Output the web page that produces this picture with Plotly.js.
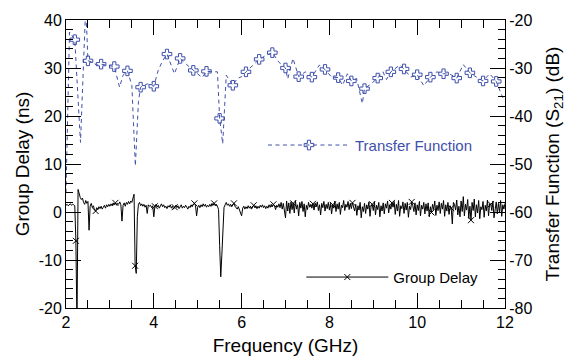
<!DOCTYPE html>
<html>
<head>
<meta charset="utf-8">
<script src="https://cdn.plot.ly/plotly-3.0.1.min.js"></script>
<style>html,body{margin:0;padding:0;background:#fff;}#chart{width:580px;height:360px;}</style>
</head>
<body>
<div id="chart"></div>
<script>
// Transfer function S21 (dB), right axis
const tfFreq = [2.0, 2.08, 2.2, 2.33, 2.45, 2.5, 2.6, 2.7, 2.8, 2.95,
  3.1, 3.22, 3.3, 3.4, 3.5, 3.58, 3.65, 3.7, 3.85, 4.0,
  4.1, 4.2, 4.3, 4.47, 4.6, 4.75, 4.9, 5.1, 5.2, 5.45,
  5.5, 5.57, 5.65, 5.8, 5.9, 6.0, 6.1, 6.3, 6.4, 6.55,
  6.7, 6.85, 7.0, 7.05, 7.17, 7.3, 7.45, 7.6, 7.77, 7.9,
  8.05, 8.2, 8.3, 8.41, 8.5, 8.62, 8.75, 8.8, 8.95, 9.1,
  9.22, 9.3, 9.4, 9.6, 9.7, 9.85, 10.0, 10.15, 10.3, 10.45,
  10.6, 10.75, 10.9, 11.05, 11.2, 11.35, 11.5, 11.65, 11.8, 11.95, 12.0];
const tfDb = [-56, -22.5, -24.1, -45.5, -17, -28.5, -28.8, -29.4, -29.2, -29.4,
  -29.7, -34.0, -31.5, -30.6, -33.6, -50.4, -37, -34.0, -33.3, -33.8,
  -30.5, -28.5, -27.1, -31.2, -28.0, -29.3, -30.5, -32.0, -30.7, -30.8,
  -40.5, -45.8, -31.5, -33.6, -32.2, -31.8, -30.8, -29.1, -28.2, -27.4,
  -26.8, -28.8, -30.0, -32.3, -28.0, -31.8, -30.8, -31.9, -29.4, -30.3,
  -31.9, -32.0, -33.6, -31.2, -32.7, -32.2, -37.4, -34.3, -33.3, -32.1,
  -30.8, -32.4, -30.8, -29.4, -30.2, -31.9, -31.4, -33.7, -31.9, -30.8,
  -31.2, -31.3, -32.1, -29.3, -31.0, -31.9, -32.7, -31.2, -32.8, -36.2, -36.7];
const tfMarkStart = 2.2, tfMarkStep = 0.3;

// Group delay (ns), left axis, sampled every 0.025 GHz from 2 GHz
const gdStart = 2.0, gdStep = 0.025;
const gdDelay = [
  1.4, 1.6, 1.3, 1.5, 1.7, 1.4, 1.6, 1.5, 1.3, -6.0, -24, 4.7, 3.6, 3.0, 2.6, 2.9, 2.0, 1.6, 2.4, 1.8,
  2.2, -3.8, 1.2, 1.8, 0.9, 1.3, 0.4, 0.2, 0.9, 0.5, 1.1, 0.7, 1.2, 0.6, 1.0, 1.4, 0.8, 1.5, 1.1, 1.6,
  1.2, 1.7, 1.3, 1.9, 1.5, 1.9, 1.4, 1.8, 1.6, 2.1, 1.5, -1.9, 1.4, 1.9, 1.2, 2.0, 1.6, 2.2, 1.7, 2.3,
  2.0, 2.8, 3.7, -11.2, -12.8, -1.0, 1.6, 2.0, 1.3, 1.7, 1.2, 1.6, 1.0, 1.4, -0.3, 1.5, 1.2, 1.4, 0.9, 1.3,
  -1.0, 1.2, 1.6, 1.0, 1.4, 0.8, 1.3, 1.7, 1.1, 1.5, 0.9, 1.2, 0.7, 1.3, 1.0, 1.5, 0.8, 1.2, 0.6, 1.0,
  1.4, 0.9, 1.3, 0.7, 1.1, 1.5, 0.8, 1.2, 0.9, 1.4, 1.0, 0.6, 1.2, 0.9, 1.5, 1.1, 1.6, 1.8, 1.3, -0.8,
  1.0, 1.4, 0.9, 1.5, 1.1, 1.7, 1.2, 1.6, 1.0, 1.4, 1.1, 1.6, 1.2, 1.8, 1.4, 1.8, 1.3, 1.6, 1.2, 0.5,
  -7.0, -13.5, -9.0, -3.0, 1.0, 1.5, 2.0, 1.4, 1.7, 1.2, 1.6, 1.1, 1.5, 1.8, 1.2, 1.0, 0.6, 1.1, 0.4, -0.5,
  -0.8, 0.8, 1.2, 0.6, 1.1, 0.7, 1.3, 0.8, 1.2, 0.6, 1.0, 1.4, 0.9, 1.3, 0.7, 1.2, 0.8, 1.4, 1.0, 1.5,
  0.9, 1.3, 0.7, 1.2, 0.8, 1.5, 1.0, 1.6, 1.1, 1.6, 1.2, 0.5, 1.4, 1.0, 1.7, 0.9, 2.0, 0.6, 1.8, 0.3,
  -1.2, 2.3, 0.2, 1.9, -0.3, 2.1, 0.5, 1.8, -0.2, 2.4, 0.6, 1.5, -0.8, 2.0, 0.8, 2.2, 0.1, 1.7, -1.0, 1.4,
  0.5, 2.0, 1.0, 1.6, 0.8, 1.7, 0.4, 1.9, 1.1, 2.1, 0.3, 1.5, -0.6, 1.8, 0.9, 2.2, 0.2, 1.6, 0.7, 2.0,
  0.4, 1.8, -0.4, 1.5, 0.8, 2.3, 0.1, 1.7, 0.6, 2.0, -0.5, 1.4, 0.9, 2.4, 0.3, 1.6, 1.0, 2.2, 0.5, 1.8,
  0.7, 1.9, 1.2, 0.2, 1.6, -0.7, 1.3, 0.4, 2.0, -1.2, 1.1, 0.1, 1.8, -0.3, 1.5, 0.6, 2.1, -0.9, 1.2, 1.6,
  0.3, 2.2, -0.6, 1.4, 0.5, 2.0, -1.0, 1.3, 0.2, 1.9, -0.4, 1.7, 0.8, 2.3, -0.2, 1.5, 0.6, 1.9, 1.0, 2.2,
  -0.5, 1.6, 0.2, 2.4, -0.9, 1.3, 0.7, 2.1, -0.3, 1.8, 0.4, 2.0, -1.1, 1.2, 0.5, 2.1, 1.3, 0.1, 1.9, -0.6,
  1.5, 0.3, 2.2, -0.8, 1.4, 0.6, 2.0, -0.4, 1.7, 0.2, 1.9, -1.0, 1.1, -0.1, 1.6, 0.5, 2.3, -0.7, 1.4, 0.3,
  2.1, -0.3, 1.8, 0.6, 2.4, -0.9, 1.5, 0.2, 2.0, -0.5, 1.3, 0.8, -2.5, 2.0, 1.6, 0.4, 2.5, -0.6, 1.2, -1.0,
  2.3, 0.1, 3.2, -0.8, 1.6, 0.4, 2.6, -1.3, 1.2, -1.7, 2.0, 0.3, 2.7, -1.0, 1.5, -0.2, 2.4, -1.4, 1.1, 0.5,
  2.2, -1.1, 1.4, 0.2, 2.5, -0.8, 1.7, 1.6, 0.3, 2.3, -1.2, 1.0, 2.1, -0.4, 1.8, 0.0, 2.4, -0.9, 1.5, 0.6,
  1.8];
const gdMarkEvery = 18, gdMarkOffset = 9;

// Tick labels
const freqTicks = [2, 4, 6, 8, 10, 12];
const gdTicks = [-20, -10, 0, 10, 20, 30, 40];
const tfTicks = [-80, -70, -60, -50, -40, -30, -20];

const seriesNames = ['Transfer Function', 'Group Delay'];

const gdFreq = gdDelay.map((_, i) => +(gdStart + i * gdStep).toFixed(4));
const gdMx = [], gdMy = [];
gdDelay.forEach((v, i) => { if (i % gdMarkEvery === gdMarkOffset) { gdMx.push(gdFreq[i]); gdMy.push(v); } });
const tfMx = [], tfMy = [];
tfFreq.forEach((f, i) => {
  const k = (f - tfMarkStart) / tfMarkStep;
  if (k > -1e-6 && Math.abs(k - Math.round(k)) < 1e-6) { tfMx.push(f); tfMy.push(tfDb[i]); }
});

const BLUE = '#3f50aa';
const tfLine = {color: BLUE, width: 1, dash: '4px,3.5px'};
const tfMarker = {symbol: 'cross-open', size: 8, color: BLUE, line: {width: 1, color: BLUE}};
const gdLine = {color: 'black', width: 1};
const gdMarker = {symbol: 'x-thin-open', size: 6, color: 'black', line: {width: 1, color: 'black'}};

const traces = [
  {x: gdFreq, y: gdDelay, mode: 'lines', line: gdLine, yaxis: 'y', showlegend: false},
  {x: gdMx, y: gdMy, mode: 'markers', marker: gdMarker, yaxis: 'y', showlegend: false},
  {x: tfFreq, y: tfDb, mode: 'lines', line: tfLine, yaxis: 'y2', showlegend: false},
  {x: tfMx, y: tfMy, mode: 'markers', marker: tfMarker, yaxis: 'y2', showlegend: false},
  {x: [null], y: [null], mode: 'lines+markers', name: seriesNames[0], line: tfLine, marker: tfMarker, yaxis: 'y2', legend: 'legend'},
  {x: [null], y: [null], mode: 'lines+markers', name: seriesNames[1], line: gdLine, marker: gdMarker, yaxis: 'y', legend: 'legend2'}
];

const FONT = 'Liberation Sans, Arial, Helvetica, sans-serif';
const axisCommon = {
  ticks: 'inside', ticklen: 15, tickwidth: 1, tickcolor: 'black',
  showline: true, linecolor: 'black', linewidth: 1,
  showgrid: false, zeroline: false,
  tickfont: {size: 16, color: 'black', family: FONT}
};

const layout = {
  width: 580, height: 360,
  margin: {l: 66, r: 75, t: 20, b: 52},
  paper_bgcolor: 'white', plot_bgcolor: 'rgba(0,0,0,0)',
  xaxis: Object.assign({}, axisCommon, {
    range: [2, 12], tickmode: 'array', tickvals: freqTicks, ticktext: freqTicks.map(String), mirror: 'ticks',
    minor: {dtick: 0.5, ticks: 'inside', ticklen: 8},
    title: {text: 'Frequency (GHz)', font: {size: 19, family: FONT, color: 'black'}, standoff: 8}
  }),
  yaxis: Object.assign({}, axisCommon, {
    range: [-20, 40], tickmode: 'array', tickvals: gdTicks, ticktext: gdTicks.map(String),
    minor: {dtick: 2, ticks: 'inside', ticklen: 7},
    title: {text: 'Group Delay (ns)', font: {size: 19, family: FONT, color: 'black'}, standoff: 4}
  }),
  yaxis2: Object.assign({}, axisCommon, {
    range: [-80, -20], tickmode: 'array', tickvals: tfTicks, ticktext: tfTicks.map(String), overlaying: 'y', side: 'right',
    minor: {dtick: 2, ticks: 'inside', ticklen: 7},
    title: {text: 'Transfer Function (S<sub>21</sub>) (dB)', font: {size: 19, family: FONT, color: 'black'}, standoff: 14}
  }),
  legend: {x: 0.4487, y: 0.565, xanchor: 'left', yanchor: 'middle', bgcolor: 'rgba(0,0,0,0)',
    itemwidth: 82, font: {size: 15, color: BLUE, family: FONT}},
  legend2: {x: 0.536, y: 0.1066, xanchor: 'left', yanchor: 'middle', bgcolor: 'rgba(0,0,0,0)',
    itemwidth: 82, font: {size: 15, color: 'black', family: FONT}},
  showlegend: true
};

Plotly.newPlot('chart', traces, layout, {displayModeBar: false, staticPlot: true});
</script>
</body>
</html>
